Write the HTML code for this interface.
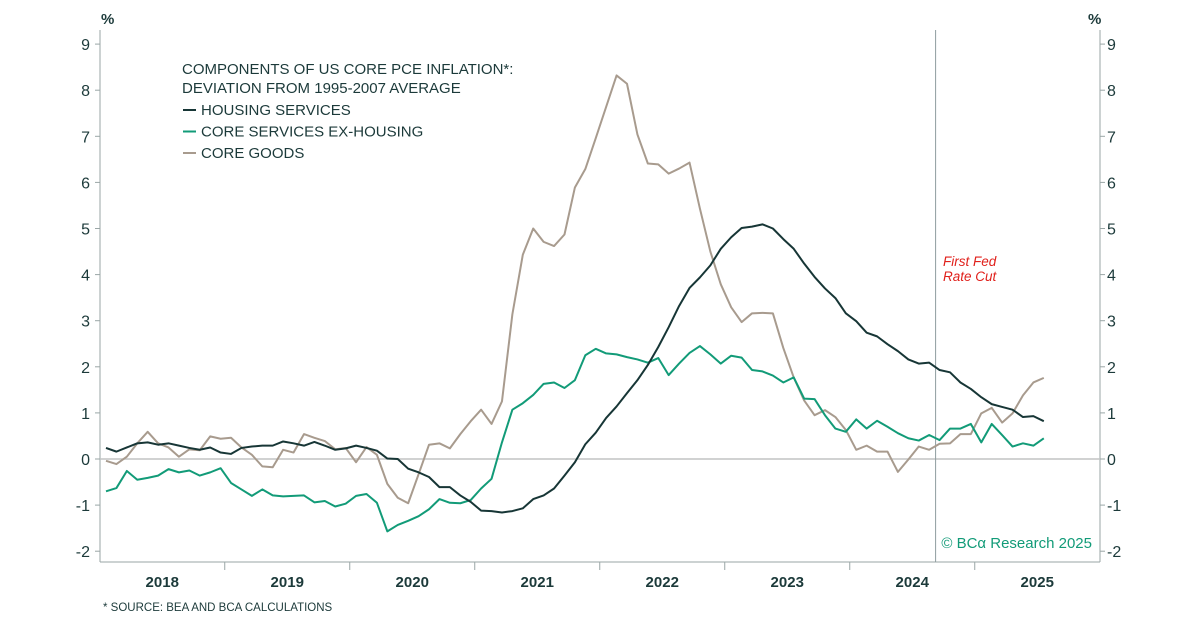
<!DOCTYPE html>
<html><head><meta charset="utf-8"><style>
body{margin:0;background:#fff;width:1200px;height:627px;overflow:hidden;font-family:"Liberation Sans",sans-serif;}
svg text{font-family:"Liberation Sans",sans-serif;}
</style></head><body>
<svg id="chart" width="1200" height="627" xmlns="http://www.w3.org/2000/svg"></svg>
<script>
const housing=[0.24,0.16,0.25,0.34,0.36,0.31,0.34,0.29,0.24,0.2,0.25,0.14,0.11,0.24,0.27,0.29,0.29,0.38,0.34,0.29,0.37,0.29,0.2,0.23,0.29,0.24,0.18,0.01,0,-0.21,-0.29,-0.39,-0.61,-0.61,-0.79,-0.93,-1.12,-1.13,-1.16,-1.13,-1.07,-0.87,-0.79,-0.64,-0.36,-0.07,0.32,0.57,0.89,1.14,1.43,1.71,2.04,2.43,2.86,3.32,3.71,3.94,4.2,4.56,4.81,5.01,5.04,5.09,5.0,4.77,4.56,4.24,3.95,3.7,3.49,3.16,2.99,2.74,2.66,2.49,2.34,2.16,2.07,2.09,1.93,1.88,1.66,1.52,1.34,1.19,1.13,1.07,0.91,0.93,0.82];
const services=[-0.7,-0.63,-0.26,-0.45,-0.41,-0.36,-0.22,-0.29,-0.25,-0.36,-0.29,-0.2,-0.52,-0.66,-0.8,-0.66,-0.79,-0.81,-0.8,-0.79,-0.94,-0.91,-1.03,-0.97,-0.8,-0.76,-0.95,-1.57,-1.43,-1.34,-1.24,-1.09,-0.87,-0.95,-0.96,-0.89,-0.64,-0.43,0.36,1.07,1.21,1.39,1.63,1.66,1.54,1.71,2.25,2.39,2.29,2.27,2.21,2.16,2.09,2.19,1.82,2.07,2.3,2.45,2.27,2.07,2.24,2.2,1.93,1.9,1.81,1.66,1.77,1.31,1.3,0.95,0.66,0.59,0.86,0.66,0.83,0.7,0.56,0.45,0.4,0.52,0.41,0.66,0.66,0.76,0.36,0.76,0.52,0.27,0.34,0.29,0.45];
const goods=[-0.04,-0.11,0.05,0.34,0.59,0.34,0.25,0.05,0.21,0.19,0.49,0.44,0.46,0.25,0.09,-0.16,-0.18,0.2,0.14,0.54,0.46,0.39,0.21,0.24,-0.07,0.26,0.09,-0.54,-0.84,-0.96,-0.33,0.31,0.34,0.23,0.54,0.82,1.07,0.76,1.25,3.14,4.43,5.0,4.71,4.62,4.87,5.89,6.29,6.96,7.64,8.32,8.14,7.04,6.41,6.39,6.19,6.3,6.43,5.43,4.5,3.79,3.29,2.97,3.16,3.17,3.16,2.41,1.77,1.27,0.95,1.06,0.91,0.63,0.2,0.29,0.16,0.16,-0.28,-0.01,0.27,0.2,0.33,0.34,0.54,0.54,0.99,1.11,0.79,0.99,1.38,1.66,1.76];
const yTicks=[-2,-1,0,1,2,3,4,5,6,7,8,9];
const years=["2018","2019","2020","2021","2022","2023","2024","2025"];
const cutIndex=80;

const svg=document.getElementById('chart');
const NS='http://www.w3.org/2000/svg';
const L=100,R=1100,T=30,B=562;
const y=v=>459-46.1*v;
const x=i=>106+i*10.42;
function mk(tag,attrs,parent){const e=document.createElementNS(NS,tag);for(const k in attrs)e.setAttribute(k,attrs[k]);(parent||svg).appendChild(e);return e;}
function txt(s,attrs){const e=mk('text',attrs);e.textContent=s;return e;}

// frame
let e=mk('line',{x1:L,y1:T,x2:L,y2:B,stroke:'#9aa6a6','stroke-width':1});


e=mk('line',{x1:R,y1:T,x2:R,y2:B,stroke:'#9aa6a6','stroke-width':1});


e=mk('line',{x1:L,y1:B,x2:R,y2:B,stroke:'#9aa6a6','stroke-width':1});


e=mk('line',{x1:L,y1:y(0),x2:R,y2:y(0),stroke:'#c2c4c4','stroke-width':1.5});



yTicks.forEach(v=>{
  mk('line',{x1:L-5,y1:y(v),x2:L,y2:y(v),stroke:'#9aa6a6'});
  mk('line',{x1:R,y1:y(v),x2:R+5,y2:y(v),stroke:'#9aa6a6'});
  let t=txt(String(v),{x:L-10,y:y(v)+6,'text-anchor':'end','font-size':16,fill:'#1c3a3a'});
  
  
  t=txt(String(v),{x:R+7,y:y(v)+6,'font-size':16,fill:'#1c3a3a'});
  
  
});
e=txt('%',{x:101,y:24,'font-size':15,fill:'#1c3a3a','font-weight':'bold'});


e=txt('%',{x:1088,y:24,'font-size':15,fill:'#1c3a3a','font-weight':'bold'});



years.forEach((yr,k)=>{
  const x0=x(-0.6)+k*125;
  if(k>0) mk('line',{x1:x0,y1:B,x2:x0,y2:B+8,stroke:'#9aa6a6'});
  const t=txt(yr,{x:x0+62.5,y:587,'text-anchor':'middle','font-size':15,'font-weight':'bold',fill:'#1c3a3a'});
  
  
});

// rate cut
e=mk('line',{x1:x(cutIndex)-4,y1:T,x2:x(cutIndex)-4,y2:B,stroke:'#8e9c9e','stroke-width':1});


e=txt('First Fed',{x:943,y:266,'font-size':13.5,'font-style':'italic',fill:'#e0201b'});


e=txt('Rate Cut',{x:943,y:281,'font-size':13.5,'font-style':'italic',fill:'#e0201b'});



function series(arr,color,name){
  const p=mk('polyline',{points:arr.map((v,i)=>x(i)+','+y(v)).join(' '),fill:'none',stroke:color,'stroke-width':2,'stroke-linejoin':'round'});
  
  
}
series(goods,'#a89b8e','core-goods-line');
series(services,'#129b78','core-services-line');
series(housing,'#173636','housing-services-line');

// legend
e=txt('COMPONENTS OF US CORE PCE INFLATION*:',{x:182,y:74,'font-size':15,fill:'#1c3a3a'});


e=txt('DEVIATION FROM 1995-2007 AVERAGE',{x:182,y:93,'font-size':15,fill:'#1c3a3a'});


[['HOUSING SERVICES','#173636'],['CORE SERVICES EX-HOUSING','#129b78'],['CORE GOODS','#a89b8e']].forEach((d,k)=>{
  const yy=110+k*21.5;
  mk('line',{x1:183,y1:yy,x2:196,y2:yy,stroke:d[1],'stroke-width':2});
  const t=txt(d[0],{x:201,y:yy+5,'font-size':15,fill:'#1c3a3a'});
  
  
});

e=txt('© BCα Research 2025',{x:1092,y:548,'text-anchor':'end','font-size':15,fill:'#129b78','font-family':'Liberation Serif, serif'});


e=txt('* SOURCE: BEA AND BCA CALCULATIONS',{x:103,y:611,'font-size':11.5,fill:'#1c3a3a'});


</script>
</body></html>
